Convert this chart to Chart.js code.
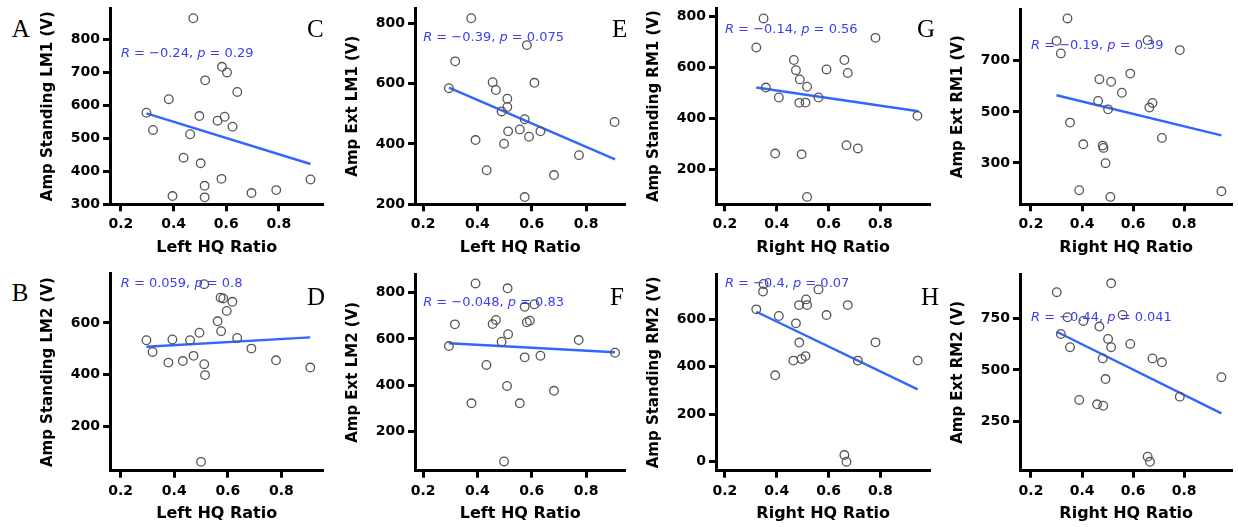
<!DOCTYPE html>
<html><head><meta charset="utf-8">
<script src="https://cdn.jsdelivr.net/npm/chart.js@4"></script>
<style>
html,body{margin:0;padding:0;background:#fff;width:1238px;height:527px;overflow:hidden;}
body{position:relative;}
canvas{position:absolute;}
.letter{position:absolute;font-family:"Liberation Serif","DejaVu Serif",serif;font-size:25px;line-height:25px;color:#000;}
</style></head><body>
<script>
// ---------- data ----------
const panelLetters = ['A','C','E','G','B','D','F','H'];
const xTitles = ['Left HQ Ratio','Left HQ Ratio','Right HQ Ratio','Right HQ Ratio','Left HQ Ratio','Left HQ Ratio','Right HQ Ratio','Right HQ Ratio'];
const yTitles = ['Amp Standing LM1 (V)','Amp Ext LM1 (V)','Amp Standing RM1 (V)','Amp Ext RM1 (V)','Amp Standing LM2 (V)','Amp Ext LM2 (V)','Amp Standing RM2 (V)','Amp Ext RM2 (V)'];
const rValues = ['\u22120.24','\u22120.39','\u22120.14','\u22120.19','0.059','\u22120.048','\u22120.4','\u22120.44'];
const pValues = ['0.29','0.075','0.56','0.39','0.8','0.83','0.07','0.041'];
const labelY = [755,754,751,758,751,757,752,755];

const xTicks = [0.2,0.4,0.6,0.8];
const yTicksA = [300,400,500,600,700,800];
const yTicksC = [200,400,600,800];
const yTicksE = [200,400,600,800];
const yTicksG = [300,500,700];
const yTicksB = [200,400,600];
const yTicksD = [200,400,600,800];
const yTicksF = [0,200,400,600];
const yTicksH = [250,500,750];

const xA = [0.475,0.584,0.603,0.52,0.642,0.382,0.297,0.498,0.594,0.567,0.624,0.322,0.463,0.438,0.503,0.582,0.518,0.396,0.518,0.696,0.79,0.92];
const yA = [863,716,699,675,640,618,577,567,565,553,535,525,512,441,424,377,356,325,321,334,343,375];
const xC = [0.377,0.318,0.582,0.295,0.456,0.468,0.61,0.51,0.51,0.489,0.574,0.513,0.556,0.59,0.632,0.393,0.498,0.434,0.774,0.682,0.574,0.905];
const yC = [817,674,728,585,605,579,603,550,523,508,482,442,448,424,442,413,401,313,363,297,224,473];
const xE = [0.349,0.321,0.781,0.466,0.474,0.489,0.517,0.358,0.592,0.661,0.674,0.408,0.561,0.487,0.511,0.943,0.394,0.496,0.669,0.713,0.517];
const yE = [793,679,717,630,590,554,525,522,593,630,579,483,483,462,463,411,263,260,296,283,93];
const xG = [0.343,0.3,0.317,0.657,0.783,0.589,0.468,0.514,0.556,0.463,0.676,0.664,0.502,0.353,0.713,0.405,0.481,0.484,0.492,0.389,0.511,0.946];
const yG = [866,778,729,781,742,650,628,618,575,543,535,517,510,458,398,373,368,359,299,193,167,189];
const xB = [0.512,0.573,0.583,0.617,0.596,0.562,0.575,0.494,0.296,0.393,0.459,0.635,0.688,0.319,0.472,0.378,0.432,0.512,0.515,0.78,0.908,0.5];
const yB = [749,697,694,681,646,606,568,562,533,536,533,542,501,488,473,447,453,441,399,456,428,65];
const xD = [0.393,0.511,0.574,0.61,0.317,0.468,0.456,0.582,0.593,0.513,0.489,0.295,0.773,0.574,0.632,0.907,0.433,0.509,0.682,0.378,0.556,0.498];
const yD = [840,819,739,750,663,682,664,672,679,620,588,569,595,520,527,540,487,396,375,321,321,69];
const xF = [0.349,0.347,0.561,0.321,0.513,0.486,0.517,0.674,0.408,0.592,0.474,0.487,0.781,0.464,0.496,0.511,0.713,0.944,0.394,0.661,0.669];
const yF = [749,717,726,642,684,660,660,660,614,618,583,502,503,426,433,445,426,426,364,28,0];
const xH = [0.514,0.301,0.343,0.559,0.405,0.468,0.317,0.502,0.514,0.589,0.353,0.481,0.676,0.713,0.492,0.946,0.389,0.459,0.483,0.783,0.657,0.666];
const yH = [919,876,755,766,737,710,674,650,610,626,610,556,556,537,456,465,355,334,327,371,81,56];

// fitted regression line end points (x, y)
const fitX = [[0.297,0.92],[0.295,0.907],[0.321,0.947],[0.3,0.946],[0.296,0.908],[0.295,0.907],[0.321,0.944],[0.301,0.946]];
const fitY = [[575,422],[587,349],[522,429],[565,408],[508,544],[581,542],[632,305],[685,290]];

const xs = [xA,xC,xE,xG,xB,xD,xF,xH];
const ys = [yA,yC,yE,yG,yB,yD,yF,yH];
const yTickSets = [yTicksA,yTicksC,yTicksE,yTicksG,yTicksB,yTicksD,yTicksF,yTicksH];

// ---------- layout (positions / ranges) ----------
const layout = [
  {axisX:110, right:325, top:8, bottom:204.3, cTop:0, xr:[0.1587,0.969], yr:[300,894], lx:11.7, lb:38.3},
  {axisX:415, right:627, top:8, bottom:204.3, cTop:0, xr:[0.17,0.945], yr:[200,851], lx:307, lb:37.8},
  {axisX:716, right:932, top:8, bottom:204.3, cTop:0, xr:[0.1655,0.993], yr:[64,834], lx:612, lb:38.3},
  {axisX:1019.5, right:1233, top:9, bottom:204.3, cTop:0, xr:[0.157,0.989], yr:[138,903], lx:917, lb:38},
  {axisX:110, right:325, top:273.5, bottom:470.7, cTop:262, xr:[0.16,0.957], yr:[31,790], lx:11.7, lb:302.7},
  {axisX:415, right:627, top:274, bottom:470.7, cTop:262, xr:[0.17,0.945], yr:[29,881], lx:307, lb:306.7},
  {axisX:716, right:932, top:274, bottom:470.7, cTop:262, xr:[0.1655,0.993], yr:[-38,791], lx:610, lb:306.7},
  {axisX:1019.5, right:1233, top:274, bottom:470.7, cTop:262, xr:[0.157,0.989], yr:[13,964], lx:921, lb:306.7}
];

const Y_W = 75, X_H = 56;
const FONT = 'DejaVu Sans';
Chart.defaults.font.family = FONT;

const annot = {
  id:'annot',
  afterDatasetsDraw(chart, args, o){
    const {ctx} = chart; const sx = chart.scales.x, sy = chart.scales.y;
    let px = sx.getPixelForValue(o.x); const py = sy.getPixelForValue(o.y);
    ctx.save(); ctx.fillStyle = '#3d3df2'; ctx.textBaseline = 'middle'; ctx.textAlign = 'left';
    for (const s of o.segs){
      ctx.font = (s.i ? 'italic ' : '') + '13px "DejaVu Sans"';
      ctx.fillText(s.t, px, py); px += ctx.measureText(s.t).width;
    }
    ctx.restore();
  }
};

layout.forEach((L, i) => {
  const cv = document.createElement('canvas');
  const w = Y_W + (L.right - L.axisX) + 4;
  const h = L.bottom - L.cTop + X_H;
  cv.width = Math.ceil(w); cv.height = Math.ceil(h);
  cv.style.left = (L.axisX - Y_W) + 'px'; cv.style.top = L.cTop + 'px';
  document.body.appendChild(cv);
  const padBottom = cv.height - h;
  const padRight = cv.width - w + 4;

  const letter = document.createElement('div');
  letter.className = 'letter'; letter.textContent = panelLetters[i];
  letter.style.left = L.lx + 'px'; letter.style.top = (L.lb - 22.3) + 'px';
  document.body.appendChild(letter);

  const pts = xs[i].map((x, k) => ({x, y: ys[i][k]}));
  const fit = fitX[i].map((x, k) => ({x, y: fitY[i][k]}));
  const yT = yTickSets[i];

  new Chart(cv, {
    type:'scatter',
    data:{datasets:[
      {type:'line', data:fit, borderColor:'#3366ff', borderWidth:2.4, pointRadius:0, fill:false, order:2},
      {type:'scatter', data:pts, pointRadius:4.3, pointBorderWidth:1.3, borderColor:'#555', backgroundColor:'rgba(0,0,0,0)', pointHoverRadius:4.3, order:1}
    ]},
    options:{
      responsive:false, animation:false, devicePixelRatio:1,
      layout:{padding:{left:0, right:padRight, top:L.top - L.cTop, bottom:padBottom}},
      plugins:{legend:{display:false}, tooltip:{enabled:false},
        annot:{x:0.2, y:labelY[i], segs:[{t:'R',i:1},{t:' = ' + rValues[i] + ', '},{t:'p',i:1},{t:' = ' + pValues[i]}]}},
      scales:{
        x:{type:'linear', min:L.xr[0], max:L.xr[1],
          afterBuildTicks:s => { s.ticks = xTicks.map(v => ({value:v})); },
          afterFit:s => { s.height = X_H; s.paddingLeft = 0; s.paddingRight = 0; },
          border:{display:true, color:'#000', width:3},
          grid:{display:true, drawOnChartArea:false, drawTicks:true, tickLength:7, tickWidth:3, tickColor:'#000'},
          ticks:{color:'#000', padding:5, font:{family:FONT, size:14, weight:'bold'}, callback:v => v.toFixed(1), maxRotation:0, autoSkip:false},
          title:{display:true, text:xTitles[i], color:'#000', font:{family:FONT, size:16, weight:'bold'}, padding:{top:0, bottom:2.9}}
        },
        y:{type:'linear', min:L.yr[0], max:L.yr[1],
          afterBuildTicks:s => { s.ticks = yT.map(v => ({value:v})); },
          afterFit:s => { s.width = Y_W; s.paddingTop = 0; s.paddingBottom = 0; },
          border:{display:true, color:'#000', width:3},
          grid:{display:true, drawOnChartArea:false, drawTicks:true, tickLength:7, tickWidth:3, tickColor:'#000'},
          ticks:{color:'#000', padding:3, font:{family:FONT, size:14, weight:'bold'}, callback:v => String(v), autoSkip:false},
          title:{display:true, text:yTitles[i], color:'#000', font:{family:FONT, size:15, weight:'bold'}, padding:{top:4, bottom:0}}
        }
      }
    },
    plugins:[annot]
  });
});
</script>
</body></html>
